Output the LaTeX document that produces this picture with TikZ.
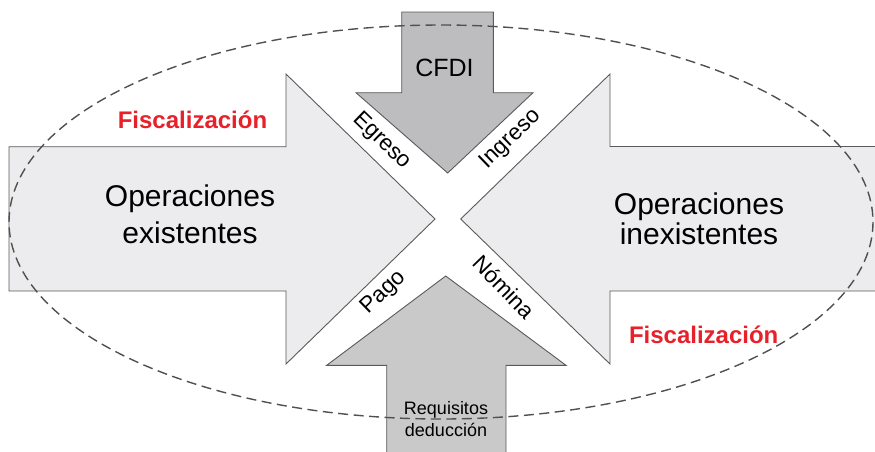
\documentclass[tikz,border=0pt]{standalone}
\usepackage{fontspec}
\setmainfont{Liberation Sans}
\definecolor{lightfill}{HTML}{ECECEE}
\definecolor{topfill}{HTML}{BDBCBE}
\definecolor{botfill}{HTML}{C9C9C9}
\definecolor{edge}{HTML}{5A5A5A}
\definecolor{dashc}{HTML}{505050}
\definecolor{fiscred}{HTML}{E8202A}
\begin{document}
\begin{tikzpicture}[x=1pt,y=-1pt,
  bigarrow/.style={draw=edge,line width=0.9pt,line join=miter},
  bigtext/.style={inner sep=0pt,align=center,text=black},
  fisctext/.style={inner sep=0pt,anchor=base,text=fiscred,font=\fontsize{24}{28}\selectfont\bfseries},
  slanttext/.style={inner sep=0pt,text=black,font=\fontsize{22.5}{26}\selectfont},
  boundary/.style={draw=dashc,line width=1.4pt,dash pattern=on 10pt off 5.5pt}]
\useasboundingbox (0,0) rectangle (875,451);
% left arrow
\draw[bigarrow,fill=lightfill] (9,146.7) -- (286,146.7) -- (286,74) -- (435,219) -- (286,364) -- (286,291) -- (9,291) -- cycle;
% right arrow
\draw[bigarrow,fill=lightfill] (880,146.5) -- (610,146.5) -- (610,74) -- (460.7,219) -- (610,364) -- (610,291) -- (880,291);
\fill[lightfill] (611,147.5) rectangle (880,290);
% top arrow
\draw[bigarrow,fill=topfill] (401.7,12) -- (493.3,12) -- (493.3,92.7) -- (533,92.7) -- (447.7,173) -- (356,92.7) -- (401.7,92.7) -- cycle;
% bottom arrow
\draw[bigarrow,fill=botfill] (445.7,276) -- (566,365.3) -- (506,365.3) -- (506,460) -- (386.7,460) -- (386.7,365.3) -- (326.7,365.3) -- cycle;
% dashed ellipse
\draw[boundary] (441,222) ellipse [x radius=432, y radius=197];
% texts
\node[bigtext,font=\fontsize{30}{36.7}\selectfont] (opex) at (190,214) {Operaciones\\existentes};
\node[bigtext,font=\fontsize{30}{30}\selectfont] (opin) at (699,219) {Operaciones\\inexistentes};
\node[bigtext,font=\fontsize{25}{30}\selectfont] (cfdi) at (444.5,67.6) {CFDI};
\node[bigtext,font=\fontsize{18}{22}\selectfont] (req) at (446,419.3) {Requisitos\\deducción};
\node[fisctext] (fisc1) at (192.5,128.3) {Fiscalización};
\node[fisctext] (fisc2) at (703.7,343.5) {Fiscalización};
\node[slanttext,rotate=-44] (egreso) at (381.7,141) {Egreso};
\node[slanttext,rotate=44] (ingreso) at (510.7,139.3) {Ingreso};
\node[slanttext,rotate=44] (pago) at (384,292.7) {Pago};
\node[slanttext,rotate=-46] (nomina) at (504,286.7) {Nómina};
\end{tikzpicture}
\end{document}
